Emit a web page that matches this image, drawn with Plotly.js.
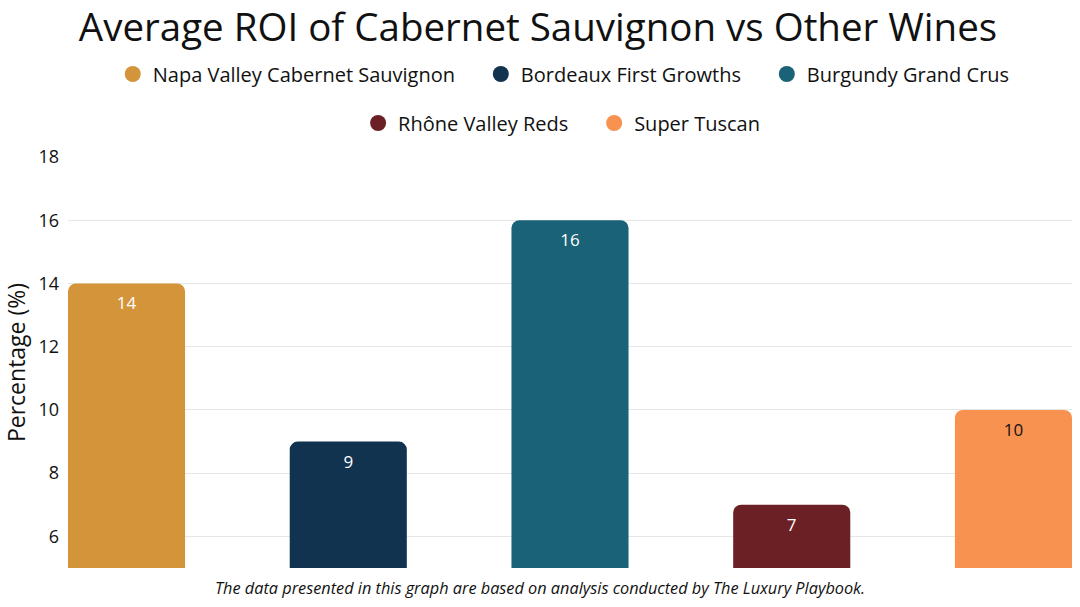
<!DOCTYPE html>
<html>
<head>
<meta charset="utf-8">
<script src="https://cdn.plot.ly/plotly-3.0.1.min.js"></script>
<style>html,body{margin:0;padding:0;background:#fff;}#chart{width:1080px;height:607px;}</style>
</head>
<body>
<div id="chart"></div>
<script>
const categories = ["Napa Valley Cabernet Sauvignon", "Bordeaux First Growths", "Burgundy Grand Crus", "Rhône Valley Reds", "Super Tuscan"];
const roiValues = [14, 9, 16, 7, 10];
const barColors = ["#D4953A", "#12334F", "#1A6277", "#6B2026", "#F79250"];
const labelColors = ["#ffffff", "#ffffff", "#ffffff", "#ffffff", "#111111"];
const yTicks = [6, 8, 10, 12, 14, 16, 18];

const FONT = "Open Sans, sans-serif";
const PAD = "\u00a0\u00a0\u00a0\u00a0";
const traces = [];
categories.forEach((c, i) => {
  traces.push({
    type: "bar",
    x: [c],
    y: [roiValues[i]],
    name: c,
    marker: {color: barColors[i]},
    width: 0.528,
    text: [String(roiValues[i])],
    textposition: "inside",
    insidetextanchor: "end",
    textfont: {family: FONT, size: 17, color: labelColors[i]},
    showlegend: false,
    hoverinfo: "x+y"
  });
});
categories.forEach((c, i) => {
  traces.push({
    type: "scatter",
    mode: "markers",
    x: [null],
    y: [null],
    name: c + (i === 2 || i === 4 ? "" : PAD),
    marker: {color: barColors[i], size: 19, symbol: "circle"},
    showlegend: true,
    legend: i < 3 ? "legend" : "legend2"
  });
});

const legendCommon = {
  orientation: "h",
  xref: "container",
  yref: "container",
  xanchor: "center",
  yanchor: "middle",
  font: {family: FONT, size: 20, color: "#111"},
  bgcolor: "rgba(0,0,0,0)",
  itemwidth: 30
};

const layout = {
  width: 1080,
  height: 607,
  paper_bgcolor: "#ffffff",
  plot_bgcolor: "#ffffff",
  margin: {l: 68, r: 8, t: 157, b: 39},
  barmode: "overlay",
  barcornerradius: 8,
  title: {
    text: "Average ROI of Cabernet Sauvignon vs Other Wines",
    font: {family: FONT, size: 38.5, color: "#111"},
    x: 538 / 1080, xanchor: "center",
    y: 1 - 28 / 607, yanchor: "middle",
    xref: "container", yref: "container"
  },
  legend: Object.assign({}, legendCommon, {x: 0.522, y: 1 - 74 / 607}),
  legend2: Object.assign({}, legendCommon, {x: 0.52, y: 1 - 123 / 607}),
  xaxis: {
    type: "category",
    range: [-0.264, 4.264],
    showticklabels: false,
    showgrid: false,
    zeroline: false,
    showline: false,
    ticks: ""
  },
  yaxis: {
    range: [5, 18],
    tickvals: yTicks,
    ticktext: yTicks.map(String),
    tickfont: {family: FONT, size: 18, color: "#111"},
    showgrid: true,
    gridcolor: "#e6e6e6",
    gridwidth: 1,
    zeroline: false,
    showline: false,
    ticks: "",
    ticklabelstandoff: 8,
    title: {text: "Percentage (%)", font: {family: FONT, size: 23, color: "#111"}, standoff: 12}
  },
  annotations: [{
    text: "<i>The data presented in this graph are based on analysis conducted by The Luxury Playbook.</i>",
    xref: "paper", yref: "paper",
    x: (540 - 68) / 1004, y: -20 / 411,
    xanchor: "center", yanchor: "middle",
    showarrow: false,
    font: {family: FONT, size: 16.3, color: "#111"}
  }]
};

Plotly.newPlot("chart", traces, layout, {displayModeBar: false, responsive: false});
</script>
</body>
</html>
